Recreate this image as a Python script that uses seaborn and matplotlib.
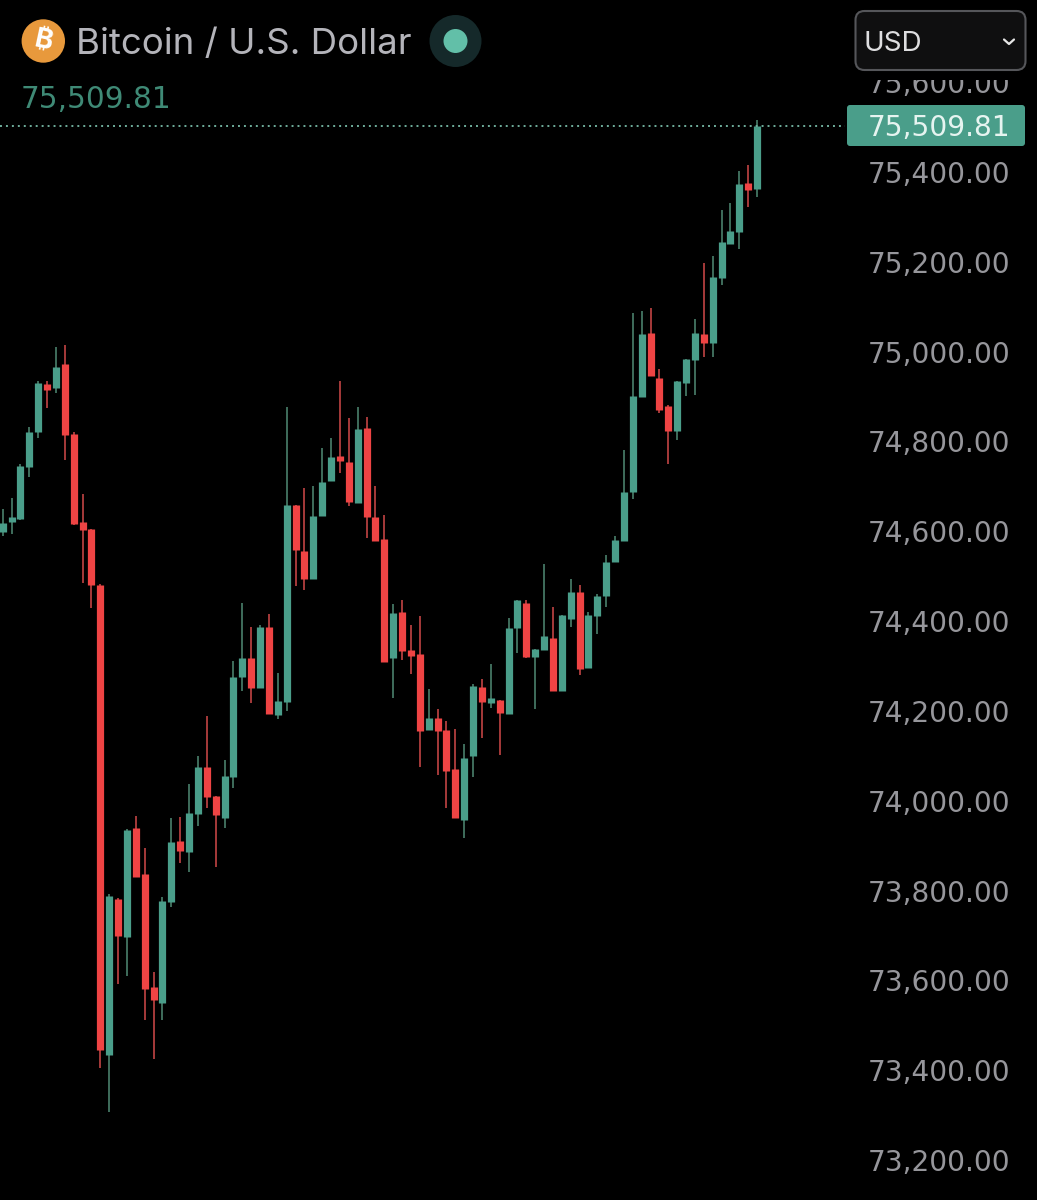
import matplotlib
matplotlib.use("Agg")
import matplotlib.pyplot as plt
from matplotlib.lines import Line2D
from matplotlib.patches import Circle, FancyBboxPatch, Rectangle
from matplotlib.transforms import Affine2D
import pandas as pd
import seaborn as sns

opens = [74605,74628,74635,74750,74827,74935,74925,74979,74823,74627,74612,74488,73441,73789,73703,73946,73843,73592,73557,73782,73916,73893,73977,74082,74018,73968,74060,74283,74325,74258,74394,74197,74226,74666,74562,74500,74641,74719,74774,74762,74670,74837,74638,74589,74325,74426,74342,74333,74164,74190,74164,74077,73964,74106,74261,74225,74230,74200,74391,74446,74327,74343,74369,74251,74412,74472,74302,74419,74463,74538,74584,74694,74906,75048,74948,74886,74829,74936,74987,75047,75027,75171,75247,75273,75382,75368]
highs = [74656,74681,74756,74839,74941,74941,75016,75022,74828,74690,74612,74490,73798,73790,73944,73973,73901,73625,73793,73969,73970,74045,74106,74195,74018,74097,74318,74446,74394,74397,74422,74292,74884,74666,74703,74708,74792,74814,74941,74858,74884,74862,74707,74642,74444,74454,74397,74418,74255,74210,74184,74167,74133,74266,74278,74311,74230,74413,74454,74454,74344,74533,74438,74420,74500,74487,74427,74466,74554,74596,74787,75092,75097,75105,74967,74888,74941,74990,75079,75204,75219,75322,75337,75408,75422,75522]
lows = [74597,74600,74631,74728,74814,74882,74915,74765,74621,74492,74435,73412,73314,73599,73616,73837,73518,73432,73519,73771,73868,73848,73950,73991,73859,73945,74034,74251,74224,74258,74200,74189,74206,74485,74476,74500,74641,74719,74736,74662,74670,74591,74585,74316,74236,74321,74289,74082,74164,74063,73990,73968,73924,74060,74147,74213,74108,74200,74335,74324,74212,74343,74251,74251,74393,74287,74302,74378,74439,74538,74584,74679,74906,74952,74871,74756,74809,74908,74911,74995,74995,75156,75247,75235,75328,75351]
closes = [74626,74638,74752,74828,74936,74921,74972,74820,74624,74610,74488,73452,73795,73706,73942,73838,73588,73563,73783,73915,73895,73979,74082,74016,73975,74061,74282,74324,74258,74394,74200,74229,74666,74564,74500,74641,74717,74773,74763,74671,74834,74639,74585,74316,74425,74340,74330,74163,74191,74163,74073,73968,74102,74263,74227,74235,74202,74391,74454,74327,74344,74374,74251,74420,74472,74299,74420,74463,74538,74587,74694,74907,75047,74952,74877,74829,74941,74990,75048,75027,75174,75251,75276,75380,75367,75509.81]
tick_values = [75600,75400,75200,75000,74800,74600,74400,74200,74000,73800,73600,73400,73200]
tick_labels = [f"{v:,.2f}" for v in tick_values]

UP, DOWN = "#4A9E8A", "#EF4444"
UP_WICK, DOWN_WICK = "#3F6D5C", "#A63A3A"
FONT = "Inter"
NUM = "DejaVu Sans"

sns.set_theme(style="dark", rc={"axes.facecolor": "black", "figure.facecolor": "black"})
plt.rcParams["font.family"] = [FONT, "DejaVu Sans"]

fig = plt.figure(figsize=(10.37, 12), dpi=100)
ax = fig.add_axes([0, 0, 1, 1])

rows_w, rows_b = [], []
for i, (o, h, l, c) in enumerate(zip(opens, highs, lows, closes)):
    d = "up" if c >= o else "down"
    rows_w += [(i, l, d), (i, h, d)]
    rows_b += [(i, min(o, c), d), (i, max(o, c), d)]
wicks = pd.DataFrame(rows_w, columns=["i", "price", "dir"])
bodies = pd.DataFrame(rows_b, columns=["i", "price", "dir"])

sns.lineplot(data=wicks, x="i", y="price", units="i", estimator=None, hue="dir", sort=False,
             palette={"up": UP_WICK, "down": DOWN_WICK}, linewidth=1.4, legend=False,
             solid_capstyle="butt", ax=ax)
sns.lineplot(data=bodies, x="i", y="price", units="i", estimator=None, hue="dir", sort=False,
             palette={"up": UP, "down": DOWN}, linewidth=5.2, legend=False,
             solid_capstyle="butt", ax=ax)

ax.set_xlim(-0.304, 116.55)
ax.set_ylim(73117.7, 75789.7)
ax.set_xlabel("")
ax.set_ylabel("")
ax.set_xticks([])
ax.grid(False)
for s in ax.spines.values():
    s.set_visible(False)
ax.yaxis.tick_right()
ax.set_yticks(tick_values, tick_labels)
ax.tick_params(axis="y", length=0, pad=-19.4, labelsize=20.2, labelcolor="#96969B")
for lab in ax.get_yticklabels():
    lab.set_ha("right")
    lab.set_va("center")
    lab.set_family(NUM)

ax.axhline(closes[-1], xmin=0, xmax=845 / 1037, color="#6FAE9C", lw=1.4, ls=(0, (1.0, 2.06)), zorder=3)

# pixel-space decoration (header, selector, price tag)
px = Affine2D().scale(1, -1).translate(0, 1200)

ax.add_patch(Rectangle((830, 0), 207, 80, transform=px, fc="black", ec="none", zorder=10))
ax.add_patch(FancyBboxPatch((855.5, 11), 170, 59, boxstyle="round,pad=0,rounding_size=9", transform=px,
                            fc="#0F0F10", ec="#55565A", lw=1.5, zorder=11))
ax.text(864, 41, "USD", transform=px, color="#DEDEE0", fontsize=20, ha="left", va="center_baseline", zorder=12)
ax.add_line(Line2D([1004, 1009, 1014], [39.5, 44, 39.5], transform=px, color="#E6E6E6", lw=1.6, zorder=12))

ax.add_patch(FancyBboxPatch((847, 105), 178, 41, boxstyle="round,pad=0,rounding_size=3", transform=px,
                            fc=UP, ec="none", zorder=11))
ax.text(1010, 125, f"{closes[-1]:,.2f}", transform=px, color="#E6F4F0", fontsize=20.2, ha="right",
        family=NUM, va="center_baseline", zorder=12)

ax.add_patch(Circle((43.3, 41), 21.7, transform=px, fc="#E8993C", ec="none", zorder=11))
ax.text(43.3, 41, "\u20bf", transform=px, color="white", fontsize=20, fontweight="bold", rotation=-12,
        family=["Inter", "Noto Sans", "Roboto", "Open Sans", "Lato", "Liberation Sans"],
        ha="center", va="center", zorder=12)
ax.text(76, 41, "Bitcoin / U.S. Dollar", transform=px, color="#B4B4BA", fontsize=26.4, ha="left",
        va="center_baseline", zorder=12)
ax.add_patch(Circle((455.5, 41), 26, transform=px, fc="#15292A", ec="none", zorder=11))
ax.add_patch(Circle((455.5, 41), 12, transform=px, fc="#62BFA8", ec="none", zorder=12))
ax.text(21, 97, f"{closes[-1]:,.2f}", transform=px, color="#3F8A76", fontsize=21.3, ha="left",
        family=NUM, va="center_baseline", zorder=12)

fig.savefig("out.png", dpi=100, facecolor="black")
